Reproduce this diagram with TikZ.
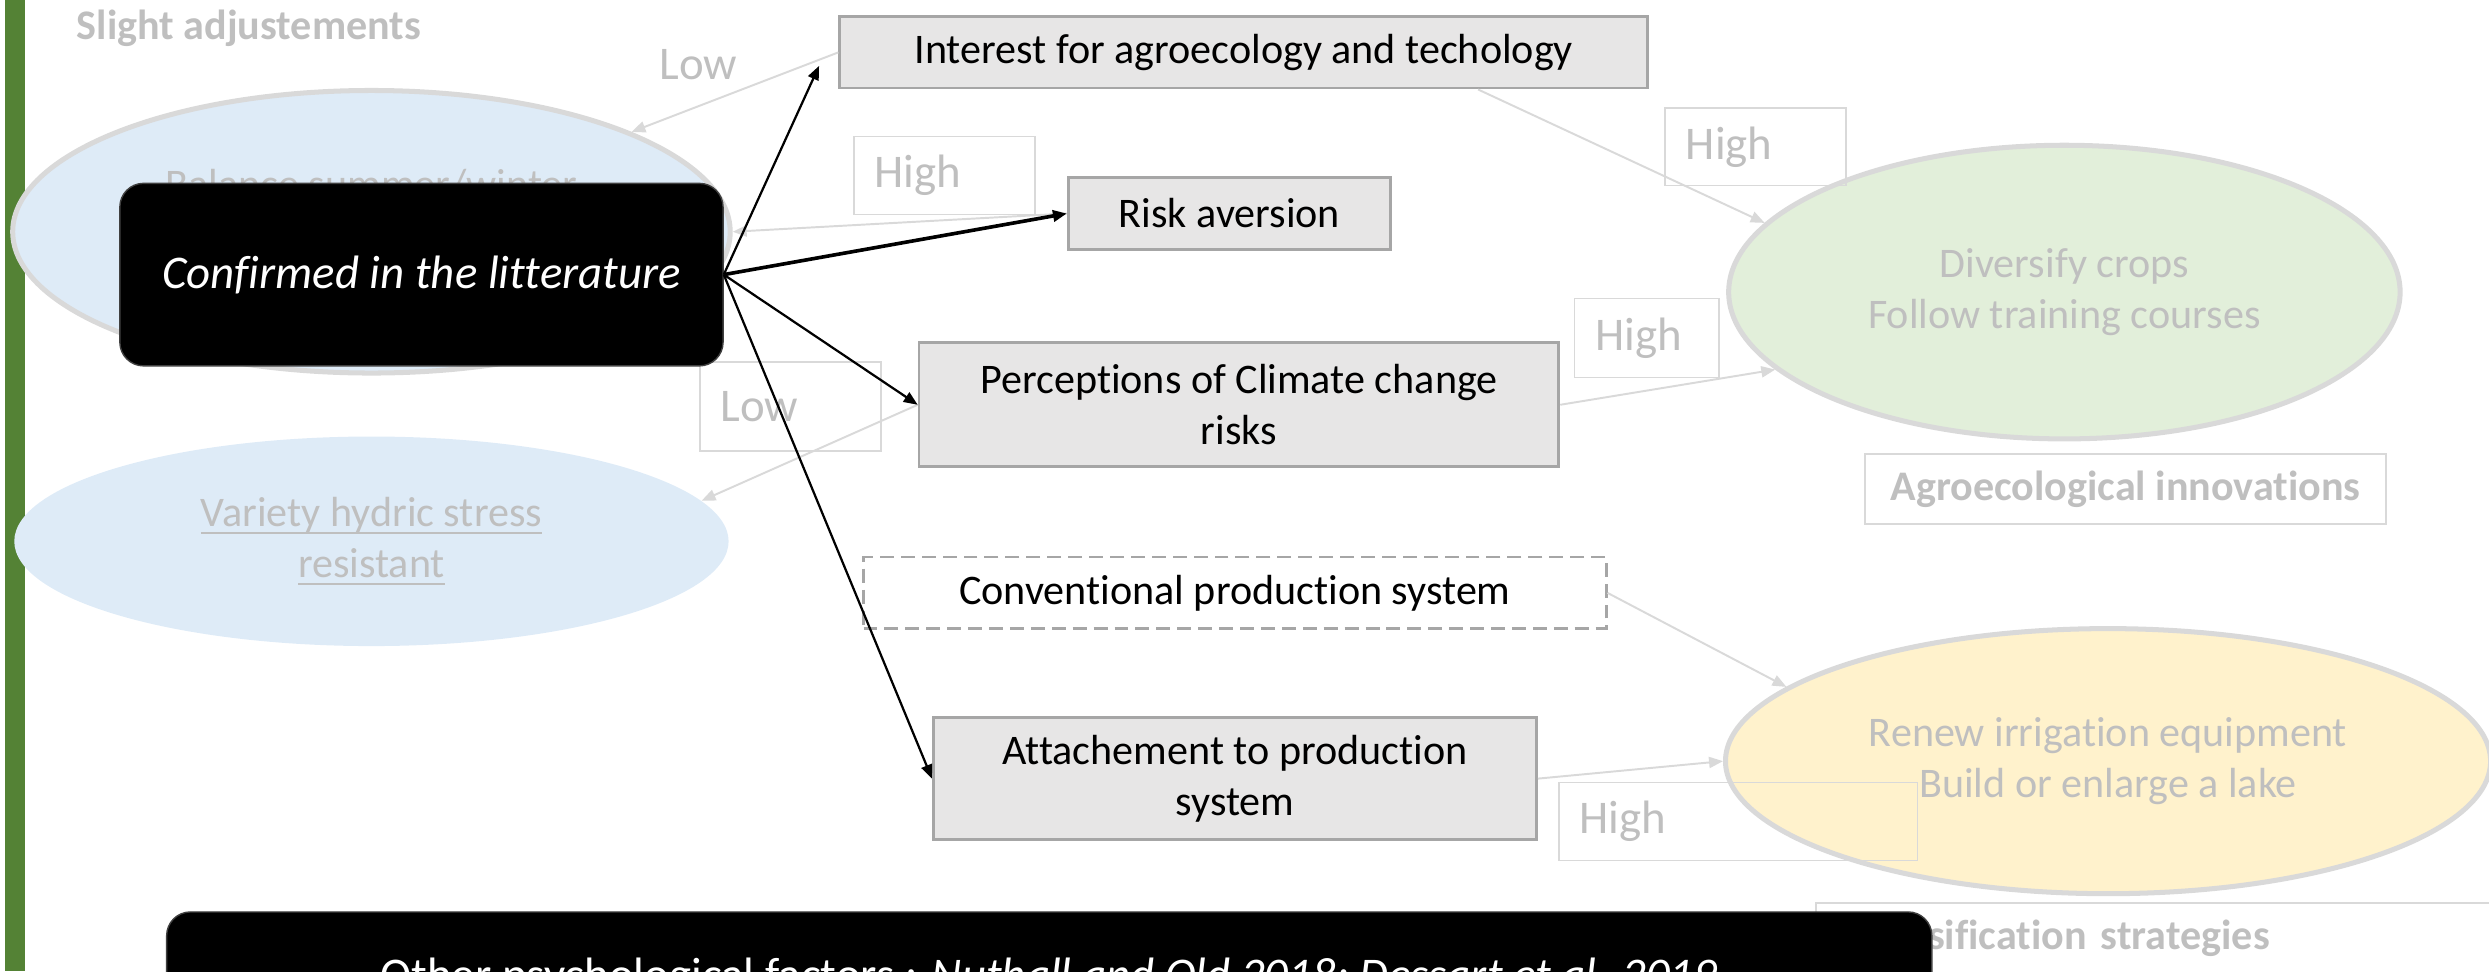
\documentclass[tikz,border=0pt]{standalone}
\usepackage{fontspec}
\setmainfont{Carlito}[Ligatures={NoCommon}]
\usetikzlibrary{shapes.geometric, arrows.meta, positioning, calc}
\definecolor{barGreen}{RGB}{84,130,53}
\definecolor{lightGray}{RGB}{191,191,191}
\definecolor{paleGray}{RGB}{217,217,217}
\definecolor{boxFill}{RGB}{231,230,230}
\definecolor{boxLine}{RGB}{166,166,166}
\definecolor{paleBlue}{RGB}{222,235,247}
\definecolor{paleGreen}{RGB}{226,239,218}
\definecolor{paleYellow}{RGB}{255,242,204}
\newlength{\pxu}
\setlength{\pxu}{0.02cm}
\newcommand{\basefont}{\fontsize{15.1pt}{18.4pt}\selectfont}
\newcommand{\bigfont}{\fontsize{16.8pt}{20.2pt}\selectfont}
\newcommand{\grayul}[1]{\setbox0\hbox{#1}\rlap{\rule[-0.17em]{\wd0}{0.05em}}\box0}
\tikzset{
  factorbox/.style={draw=boxLine, line width=1pt, fill=boxFill, align=center, inner sep=0pt},
  levelbox/.style={draw=paleGray, line width=0.5pt, text=lightGray, font=\bigfont, align=left, inner xsep=13\pxu, inner ysep=0pt},
  softtext/.style={text=lightGray, inner sep=0pt, align=center},
  outcome/.style={ellipse, inner sep=0pt, text=lightGray, align=center},
  groupbox/.style={draw=paleGray, line width=0.6pt, text=lightGray, font=\basefont\bfseries, inner sep=0pt},
  blackbox/.style={draw=black!75, line width=0.5pt, fill=black, text=white, rounded corners=8.5pt, font=\bigfont, inner sep=0pt},
  grayarrow/.style={draw=paleGray, line width=0.7pt, -{Triangle[length=5pt,width=4pt]}},
  blackarrow/.style={draw=black, line width=0.8pt, -{Triangle[length=5pt,width=4pt]}}
}
\begin{document}
\begin{tikzpicture}[x=0.02cm, y=-0.02cm, font=\basefont]
  \useasboundingbox (0,0) rectangle (1568,612);
  \fill[barGreen] (3,0) rectangle (16,612);

  \node[outcome, draw=paleGray, line width=1.8pt, fill=paleBlue, minimum width=452\pxu, minimum height=178\pxu] (balance) at (234,146) {};
  \node[softtext, anchor=base] (balancetext) at (234,125) {Balance summer/winter};
  \node[outcome, fill=paleBlue, minimum width=450\pxu, minimum height=132\pxu] (variety) at (234,341) {\grayul{Variety hydric stress}\\\grayul{resistant}};
  \node[outcome, draw=paleGray, line width=1.8pt, fill=paleGreen, minimum width=423\pxu, minimum height=185\pxu] (diversify) at (1300.5,184) {Diversify crops\\Follow training courses};
  \node[outcome, draw=paleGray, line width=1.8pt, fill=paleYellow, minimum width=482\pxu, minimum height=167\pxu] (irrigation) at (1328,479.5) {Renew irrigation equipment\\Build or enlarge a lake};

  \node[softtext, font=\basefont\bfseries, anchor=base west] (slight) at (48,25) {Slight adjustements};
  \node[groupbox, minimum width=328\pxu, minimum height=44\pxu] (agro) at (1339,308) {Agroecological innovations};
  \node[groupbox, align=left, inner xsep=13\pxu, text width=430\pxu, minimum height=44\pxu] (intens) at (1372,591) {Intensification strategies};

  \node[softtext, font=\bigfont] (lowtop) at (440,41) {Low};
  \node[levelbox, text width=88\pxu, minimum height=49\pxu] (highrisk) at (595,110.5) {High};
  \node[levelbox, text width=88\pxu, minimum height=56\pxu] (lowclim) at (498,256) {Low};
  \node[levelbox, text width=88\pxu, minimum height=49\pxu] (highagro) at (1106,92.5) {High};
  \node[levelbox, text width=65\pxu, minimum height=50\pxu] (highclim) at (1037.5,213) {High};
  \node[levelbox, text width=200\pxu, minimum height=49\pxu] (highattach) at (1095,517.5) {High};

  \node[factorbox, minimum width=509\pxu, minimum height=45\pxu] (interest) at (783.5,33) {Interest for agroecology and techology};
  \node[factorbox, minimum width=203\pxu, minimum height=45\pxu] (risk) at (774.5,134.5) {Risk aversion};
  \node[factorbox, minimum width=403\pxu, minimum height=78\pxu] (climate) at (780.5,255) {Perceptions of Climate change\\risks};
  \node[factorbox, fill=none, line width=0.8pt, dash pattern=on 5pt off 2.5pt, minimum width=468\pxu, minimum height=45\pxu] (conventional) at (778,373.5) {Conventional production system};
  \node[factorbox, minimum width=380\pxu, minimum height=77\pxu] (attachment) at (778,490.5) {Attachement to production\\system};

  \draw[grayarrow] (interest.west) -- (balance.21);
  \draw[grayarrow] (risk.west) -- (balance.east);
  \draw[grayarrow] (climate.west) -- (variety.7);
  \draw[grayarrow] (interest.-9) -- (diversify.167);
  \draw[grayarrow] (climate.east) -- (diversify.195);
  \draw[grayarrow] (conventional.east) -- (irrigation.167);
  \draw[grayarrow] (attachment.east) -- (irrigation.west);

  \node[blackbox, minimum width=380\pxu, minimum height=115\pxu] (confirmed) at (265.5,173) {\itshape Confirmed in the litterature};
  \coordinate (interesttip) at (516,41.5);
  \draw[blackarrow] (confirmed.east) -- (interesttip);
  \draw[blackarrow, line width=1.3pt] (confirmed.east) -- (risk.west);
  \draw[blackarrow] (confirmed.east) -- (climate.west);
  \draw[blackarrow] (confirmed.east) -- (attachment.west);

  \node[blackbox, minimum width=1112\pxu, minimum height=83\pxu] (otherfactors) at (661,616) {Other psychological factors : \textit{Nuthall and Old 2018; Dessart et al. 2019}};
\end{tikzpicture}
\end{document}
